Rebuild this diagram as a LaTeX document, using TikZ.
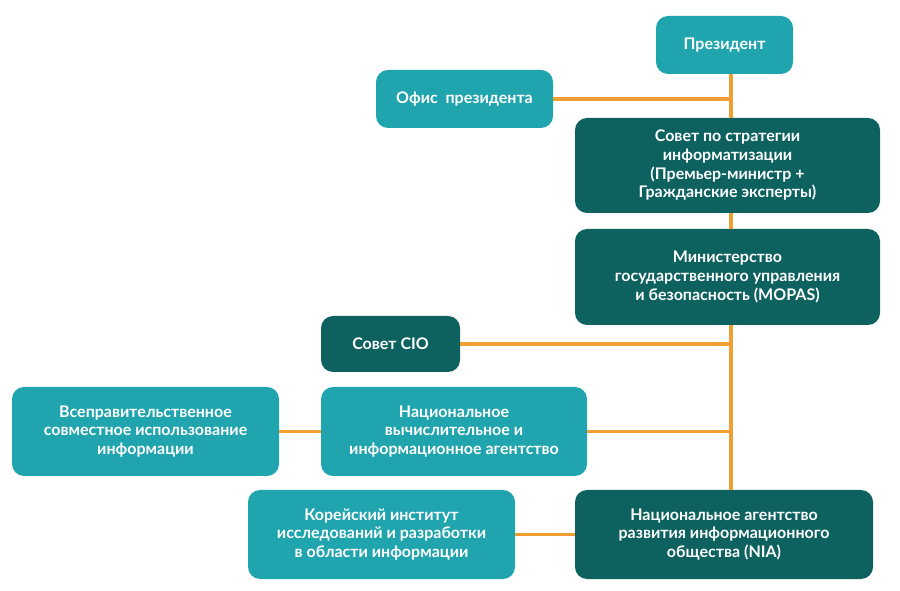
\documentclass[tikz,border=0pt]{standalone}
\usepackage{fontspec}
\setmainfont{Lato}
\definecolor{lt}{HTML}{20A4AE}
\definecolor{dk}{HTML}{0D625F}
\definecolor{org}{HTML}{F0A033}
\begin{document}
\begin{tikzpicture}[x=0.75pt,y=-0.75pt,
 box/.style={rounded corners=9pt,text=white,font=\bfseries\fontsize{12}{14}\selectfont,align=center,inner sep=0pt},
 ln/.style={draw=org,line width=2.6pt}]
\useasboundingbox (0,0) rectangle (900,591);
\newcommand\bx[7]{\node[box,fill=#6,minimum width=#3*0.75pt,minimum height=#4*0.75pt] (#5) at (#1,#2) {#7};}
\bx{724.5}{45}{137}{58}{pres}{lt}{Президент}
\bx{464.5}{99}{177}{58}{off}{lt}{Офис\ \ президента}
\bx{727.5}{165.5}{305}{95}{sov}{dk}{Совет по стратегии\\информатизации\\(Премьер-министр +\\Гражданские эксперты)}
\bx{727.5}{277}{305}{96}{min}{dk}{Министерство\\государственного управления\\и безопасность (MOPAS)}
\bx{390.5}{344}{139}{56}{cio}{dk}{Совет CIO}
\bx{145.5}{431.5}{267}{89}{all}{lt}{Всеправительственное\\совместное использование\\информации}
\bx{454}{431.5}{266}{89}{nca}{lt}{Национальное\\вычислительное и\\информационное агентство}
\bx{381.5}{534.5}{267}{89}{kor}{lt}{Корейский институт\\исследований и разработки\\в области информации}
\bx{724}{534.5}{298}{89}{nia}{dk}{Национальное агентство\\развития информационного\\общества (NIA)}
\coordinate (sp) at (731,0);
\begin{scope}[on background layer/.try]
\end{scope}
\draw[ln] (pres.south -| sp) -- (sov.north -| sp);
\draw[ln] (sov.south -| sp) -- (min.north -| sp);
\draw[ln] (min.south -| sp) -- (nia.north -| sp);
\draw[ln] (off.east) -- (off.east -| sp);
\draw[ln] (cio.east) -- (cio.east -| sp);
\draw[ln] (nca.east) -- (nca.east -| sp);
\draw[ln] (all.east) -- (nca.west);
\draw[ln] (kor.east) -- (nia.west);
\end{tikzpicture}
\end{document}
